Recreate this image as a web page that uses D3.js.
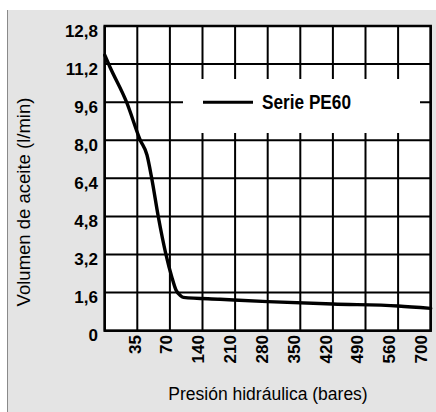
<!DOCTYPE html>
<html>
<head>
<meta charset="utf-8">
<script src="https://cdn.jsdelivr.net/npm/d3@7"></script>
<style>
  html, body { margin: 0; padding: 0; background: #fff; }
  svg { display: block; }
  text { font-family: "Liberation Sans", Arial, Helvetica, sans-serif; fill: #000; }
</style>
</head>
<body>
<svg id="chart" width="436" height="412"></svg>
<script>
// Pressure categories shown on the x axis (bar)
const pressureTicks = [35, 70, 140, 210, 280, 350, 420, 490, 560, 700];
// Grid columns start at zero pressure
const gridPressures = [0, 35, 70, 140, 210, 280, 350, 420, 490, 560, 700];
// Flow ticks on the y axis (l/min)
const flowTicks = [0, 1.6, 3.2, 4.8, 6.4, 8.0, 9.6, 11.2, 12.8];

// Serie PE60: oil flow versus hydraulic pressure
const curvePressure = [0, 5.5, 23.5, 38.2, 45.4, 50.5, 57.5, 65.8, 73.9, 83.1, 91.7, 98.8, 177.6, 280, 420, 560, 700];
const curveFlow     = [11.58, 11.09, 9.6, 8.0, 7.38, 6.4, 4.8, 3.2, 2.27, 1.71, 1.49, 1.40, 1.32, 1.22, 1.12, 1.04, 0.94];

const seriesName = "Serie PE60";
const xTitle = "Presión hidráulica (bares)";
const yTitle = "Volumen de aceite (l/min)";

const svg = d3.select("#chart");
const W = 436, H = 412;
const plot = { left: 104.7, right: 430.7, top: 26, bottom: 330.7 };

// Background panel
svg.append("rect").attr("x", 7).attr("y", 10).attr("width", W - 7).attr("height", H - 10)
  .attr("fill", "#e4e4e4");
svg.append("line").attr("x1", 7.5).attr("x2", 7.5).attr("y1", 10).attr("y2", H)
  .attr("stroke", "#8a8a8a").attr("stroke-width", 1);

// Piecewise scale: each grid column is one pressure step
const colW = (plot.right - plot.left) / (gridPressures.length - 1);
const x = d3.scaleLinear()
  .domain(gridPressures)
  .range(gridPressures.map((d, i) => plot.left + i * colW));
const y = d3.scaleLinear().domain([0, 12.8]).range([plot.bottom, plot.top]);

// Label band for the rotated pressure values
const xLab = d3.scalePoint().domain(pressureTicks).range([134.7, 421]);

// Plot area
svg.append("rect").attr("x", plot.left).attr("y", plot.top)
  .attr("width", plot.right - plot.left).attr("height", plot.bottom - plot.top)
  .attr("fill", "#fff");

const grid = svg.append("g").attr("stroke", "#000").attr("stroke-width", 2);
grid.selectAll("line.h").data(flowTicks).join("line").attr("class", "h")
  .attr("x1", plot.left).attr("x2", plot.right)
  .attr("y1", d => y(d)).attr("y2", d => y(d));
grid.selectAll("line.v").data(gridPressures).join("line").attr("class", "v")
  .attr("x1", d => x(d)).attr("x2", d => x(d))
  .attr("y1", plot.top).attr("y2", plot.bottom);

// Legend box over the grid
const leg = svg.append("g");
leg.append("rect").attr("x", 183).attr("y", 79).attr("width", 237).attr("height", 54).attr("fill", "#fff");
leg.append("line").attr("x1", 203).attr("x2", 253).attr("y1", y(9.6)).attr("y2", y(9.6))
  .attr("stroke", "#000").attr("stroke-width", 3);
leg.append("text").attr("x", 262).attr("y", y(9.6) + 7)
  .attr("font-size", 20).attr("font-weight", "bold")
  .attr("textLength", 89).attr("lengthAdjust", "spacingAndGlyphs")
  .text(seriesName);

// Curve
const line = d3.line()
  .x((d, i) => x(curvePressure[i]))
  .y(d => y(d))
  .curve(d3.curveMonotoneX);
svg.append("path").datum(curveFlow)
  .attr("d", line)
  .attr("fill", "none").attr("stroke", "#000").attr("stroke-width", 3.4)
  .attr("stroke-linejoin", "round").attr("stroke-linecap", "round");

// Outer frame
svg.append("rect").attr("x", plot.left).attr("y", plot.top)
  .attr("width", plot.right - plot.left).attr("height", plot.bottom - plot.top)
  .attr("fill", "none").attr("stroke", "#000").attr("stroke-width", 2.5);

// Y tick labels
const fmt = d => d === 0 ? "0" : d3.format(".1f")(d).replace(".", ",");
svg.append("g").selectAll("text").data(flowTicks).join("text")
  .attr("x", 98).attr("y", d => y(d) + 10.5)
  .attr("text-anchor", "end").attr("font-size", 17).attr("font-weight", "bold")
  .text(fmt);

// X tick labels (rotated)
svg.append("g").selectAll("text").data(pressureTicks).join("text")
  .attr("transform", d => `translate(${xLab(d)},335) rotate(-90)`)
  .attr("text-anchor", "end").attr("dy", "0.35em")
  .attr("font-size", 17).attr("font-weight", "bold")
  .text(d => d);

// Axis titles
svg.append("text").attr("x", 268).attr("y", 400)
  .attr("text-anchor", "middle").attr("font-size", 17.5)
  .text(xTitle);
svg.append("text").attr("transform", "translate(29.5,202) rotate(-90)")
  .attr("text-anchor", "middle").attr("font-size", 18.5)
  .text(yTitle);
</script>
</body>
</html>
